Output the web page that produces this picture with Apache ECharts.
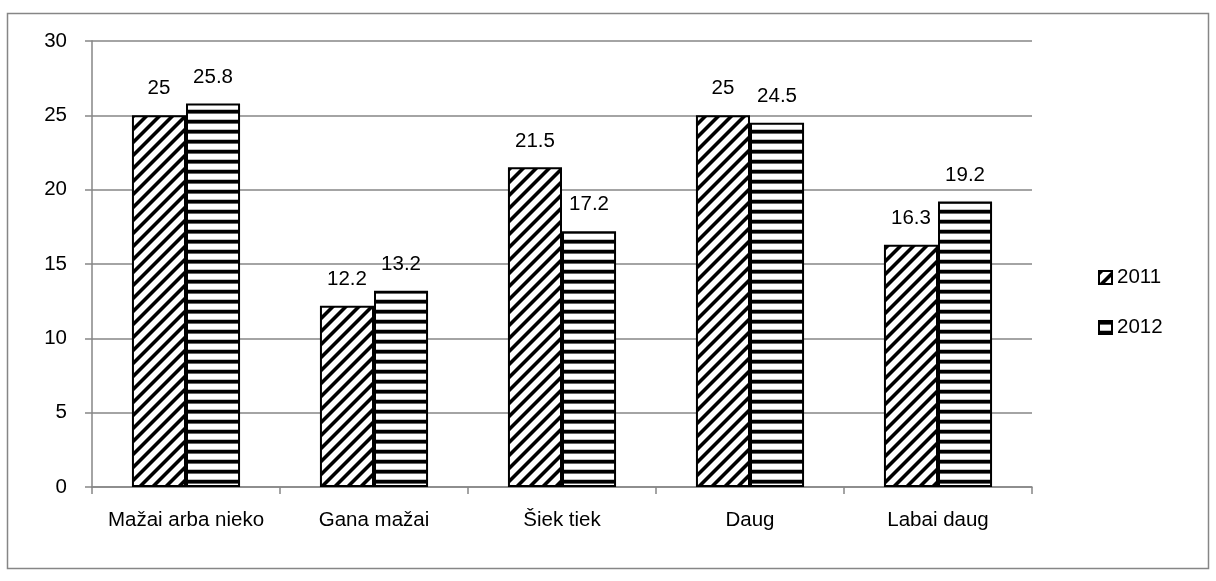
<!DOCTYPE html>
<html>
<head>
<meta charset="utf-8">
<script src="https://cdn.jsdelivr.net/npm/echarts@6/dist/echarts.min.js"></script>
<style>
  html, body { margin: 0; padding: 0; background: #fff; }
  #chart { width: 1216px; height: 581px; }
</style>
</head>
<body>
<div id="chart"></div>
<script>
// kategorijos ir reikšmės
const categories = ['Mažai arba nieko', 'Gana mažai', 'Šiek tiek', 'Daug', 'Labai daug']
const values2011 = [25, 12.2, 21.5, 25, 16.3]
const values2012 = [25.8, 13.2, 17.2, 24.5, 19.2]
const seriesNames = ['2011', '2012']

const FONT = 'Liberation Sans'
const FS = 20.5
const GRAY = '#868686'

// įstrižų juostelių raštas (/)
function diagPattern() {
    const n = 13
    const c = document.createElement('canvas')
    c.width = n
    c.height = n
    const ctx = c.getContext('2d')
    ctx.fillStyle = '#fff'
    ctx.fillRect(0, 0, n, n)
    for (let x = 0; x < n; x++) {
        for (let y = 0; y < n; y++) {
            const k = (x + y) % n
            if (k < 4) {
                ctx.fillStyle = '#000'
                ctx.fillRect(x, y, 1, 1)
            } else if (k === 4 || k === n - 1) {
                ctx.fillStyle = '#777'
                ctx.fillRect(x, y, 1, 1)
            }
        }
    }
    return c
}

// horizontalių juostelių raštas
function horizPattern() {
    const w = 10, h = 10
    const c = document.createElement('canvas')
    c.width = w
    c.height = h
    const ctx = c.getContext('2d')
    ctx.fillStyle = '#fff'
    ctx.fillRect(0, 0, w, h)
    ctx.fillStyle = '#000'
    ctx.fillRect(0, 0, w, 3)
    ctx.fillStyle = '#666'
    ctx.fillRect(0, 3, w, 1)
    ctx.fillStyle = '#bbb'
    ctx.fillRect(0, h - 1, w, 1)
    return c
}

const chart = echarts.init(document.getElementById('chart'))

const labelCfg = {
    show: true,
    position: 'top',
    distance: 16,
    color: '#000',
    fontFamily: FONT,
    fontSize: FS
}

const option = {
    animation: false,
    backgroundColor: '#fff',
    textStyle: { fontFamily: FONT },
    graphic: [{
        type: 'rect',
        shape: { x: 7.5, y: 13.5, width: 1201, height: 555 },
        style: { fill: 'none', stroke: GRAY, lineWidth: 1.5 },
        silent: true
    }],
    grid: { left: 92, right: 184, top: 41, bottom: 94 },
    legend: {
        orient: 'vertical',
        left: 1093,
        top: 262,
        icon: 'rect',
        itemWidth: 13,
        itemHeight: 13,
        itemGap: 29,
        textStyle: { fontFamily: FONT, fontSize: FS, color: '#000' },
        data: seriesNames
    },
    xAxis: {
        type: 'category',
        data: categories,
        axisLine: { lineStyle: { color: GRAY, width: 1.5 } },
        axisTick: { show: true, length: 7, lineStyle: { color: GRAY, width: 1.5 } },
        axisLabel: { color: '#000', fontFamily: FONT, fontSize: FS, margin: 23, interval: 0 }
    },
    yAxis: {
        type: 'value',
        min: 0,
        max: 30,
        interval: 5,
        axisLine: { show: true, lineStyle: { color: GRAY, width: 1.5 } },
        axisTick: { show: true, length: 7, lineStyle: { color: GRAY, width: 1.5 } },
        axisLabel: { color: '#000', fontFamily: FONT, fontSize: FS, margin: 25 },
        splitLine: { lineStyle: { color: GRAY, width: 1.5 } }
    },
    series: [
        {
            type: 'bar',
            name: seriesNames[0],
            data: values2011,
            barGap: '0%',
            barCategoryGap: '42.5%',
            itemStyle: {
                color: { image: diagPattern(), repeat: 'repeat' },
                borderColor: '#000',
                borderWidth: 2
            },
            label: labelCfg
        },
        {
            type: 'bar',
            name: seriesNames[1],
            data: values2012,
            barGap: '0%',
            barCategoryGap: '42.5%',
            itemStyle: {
                color: { image: horizPattern(), repeat: 'repeat' },
                borderColor: '#000',
                borderWidth: 2
            },
            label: labelCfg
        }
    ]
}

chart.setOption(option)
</script>
</body>
</html>
